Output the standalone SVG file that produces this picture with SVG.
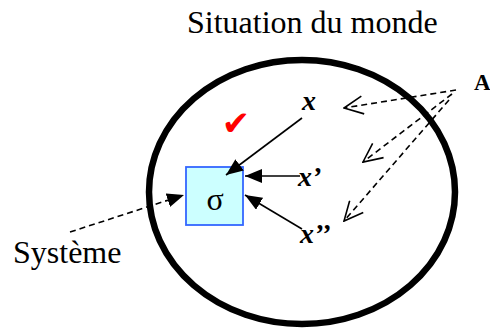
<svg xmlns="http://www.w3.org/2000/svg" width="490" height="331" viewBox="0 0 490 331">
<style>
.t{font-family:"Liberation Serif","Times New Roman",serif;fill:#000}
.lbl{font-family:"Liberation Serif","Times New Roman",serif;font-weight:bold;font-style:italic;font-size:28px;fill:#000}
.solid{stroke:#000;stroke-width:1.6;fill:none}
.dash{stroke:#000;stroke-width:1.6;fill:none;stroke-dasharray:6,4}
</style>
<defs>
<marker id="fill" viewBox="0 0 17 14" refX="17" refY="7" markerWidth="17" markerHeight="14" markerUnits="userSpaceOnUse" orient="auto">
<path d="M0,0 L17,7 L0,14 Z" fill="#000"/>
</marker>
<marker id="open" viewBox="0 0 22 20" refX="21" refY="10" markerWidth="22" markerHeight="20" markerUnits="userSpaceOnUse" orient="auto">
<path d="M2,1 L21,10 L2,19" fill="none" stroke="#000" stroke-width="1.6"/>
</marker>
</defs>
<text class="t" x="187" y="33" font-size="32">Situation du monde</text>
<g id="world">
<ellipse cx="302" cy="192" rx="153" ry="132" fill="none" stroke="#000" stroke-width="6.5"/>
</g>
<g id="sigma">
<rect x="186" y="167" width="57" height="58" fill="#ccffff" stroke="#3366ff" stroke-width="1.8"/>
<text class="t" x="215" y="210" font-size="32" text-anchor="middle">σ</text>
</g>
<g id="check">
<text x="236" y="135" font-family="DejaVu Sans,sans-serif" font-size="34" fill="#ff0000" text-anchor="middle">✔</text>
</g>
<g id="x1"><text class="lbl" x="302" y="110">x</text></g>
<g id="x2"><text class="lbl" x="298" y="186">x’</text></g>
<g id="x3"><text class="lbl" x="300" y="243">x’’</text></g>
<g id="systeme"><text class="t" x="13" y="263" font-size="32">Système</text></g>
<g id="agent"><text class="t" x="474" y="90" font-size="23" font-weight="bold">A</text></g>
<g id="connectors">
<line class="solid" x1="302" y1="118" x2="226" y2="175" marker-end="url(#fill)"/>
<line class="solid" x1="300" y1="176" x2="245" y2="176" marker-end="url(#fill)"/>
<line class="solid" x1="302" y1="229" x2="245" y2="195" marker-end="url(#fill)"/>
<line class="dash" x1="70" y1="232" x2="184" y2="195" marker-end="url(#fill)"/>
<line class="dash" x1="456" y1="90" x2="344" y2="108" marker-end="url(#open)"/>
<line class="dash" x1="452" y1="94" x2="363" y2="162" marker-end="url(#open)"/>
<line class="dash" x1="449" y1="100" x2="344" y2="221" marker-end="url(#open)"/>
</g>
</svg>
